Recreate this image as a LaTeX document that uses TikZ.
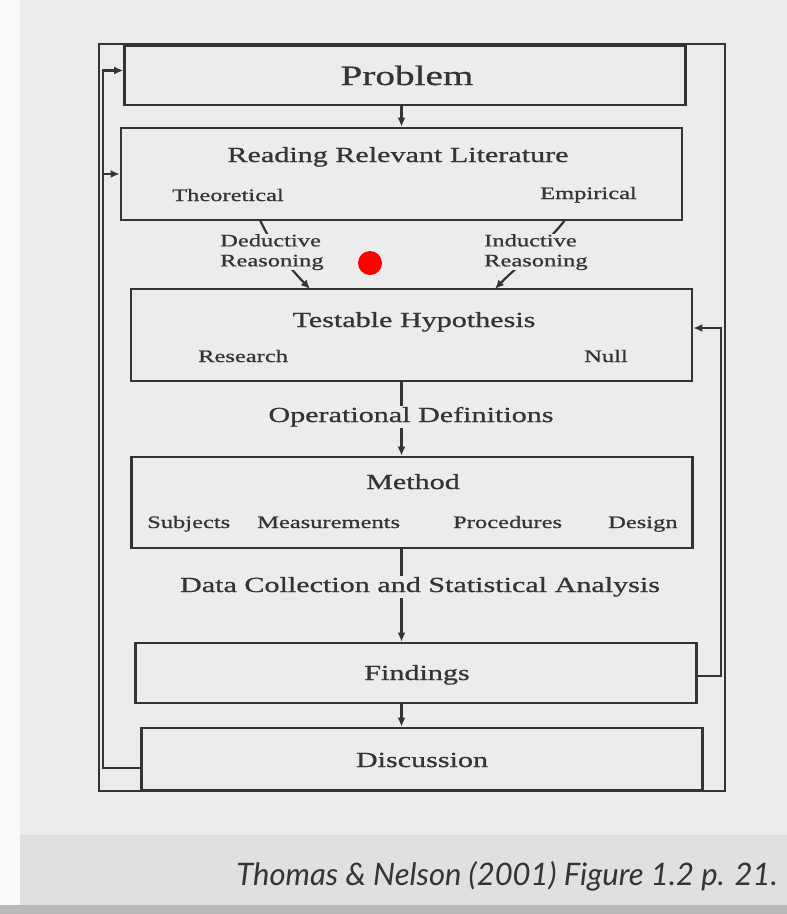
\documentclass[tikz,border=0pt]{standalone}
\usepackage{fontspec}
\setmainfont{Liberation Serif}[FakeStretch=1.4,FakeBold=0.9]
\newfontfamily\capfont{Lato}
\usetikzlibrary{arrows.meta}
\definecolor{paper}{RGB}{236,236,236}
\definecolor{band}{RGB}{224,224,224}
\definecolor{ink}{RGB}{52,52,52}

\begin{document}
\begin{tikzpicture}[x=1pt,y=-1pt,
  box/.style={draw=ink,line width=2.6pt,minimum width=561pt,inner sep=0pt},
  outline/.style={draw=ink,line width=2pt},
  arr/.style={draw=ink,line width=2.2pt,-{Latex[length=9pt,width=8pt]}},
  ttl/.style={font=\fontsize{21.5}{24}\selectfont,text=ink,inner sep=0pt},
  bigttl/.style={font=\fontsize{28}{30}\selectfont,text=ink,inner sep=0pt},
  lbl/.style={font=\fontsize{17.5}{20}\selectfont,text=ink,inner sep=0pt}]
\useasboundingbox (0,0) rectangle (787,914);
% slide background
\fill[paper] (0,0) rectangle (787,914);
\fill[white!70!paper] (0,0) rectangle (20,914);
\fill[band] (20,835) rectangle (787,905);
\fill[gray!55] (0,905) rectangle (787,914);
\draw[outline] (99,44) rectangle (725,791);
% boxes
\node[box,minimum height=59pt] (prob) at (405,75.5) {};
\node[box,minimum height=92pt] (lit) at (401.5,174) {};
\node[box,minimum height=92pt] (hyp) at (411.5,335) {};
\node[box,minimum height=91pt] (meth) at (412,502.5) {};
\node[box,minimum height=60pt] (find) at (416,673) {};
\node[box,minimum height=62pt] (disc) at (422,759) {};
% down the chain
\draw[arr] (prob.south -| lit.north) -- (lit.north);
\draw[arr] (hyp.south -| lit.south) -- (meth.north -| lit.south);
\draw[arr] (meth.south -| lit.south) -- (find.north -| lit.south);
\draw[arr] (find.south -| lit.south) -- (disc.north -| lit.south);
\coordinate (dedA) at (260,220);
\coordinate (dedB) at (310,289);
\draw[arr] (dedA) .. controls (272,246) and (288,266) .. (dedB);
\coordinate (indA) at (565,220);
\coordinate (indB) at (495,289);
\draw[arr] (indA) .. controls (546,245) and (515,268) .. (indB);
% feedback loops
\coordinate (fbL) at (103,768);
\draw[arr] (fbL -| disc.west) -- (fbL) |- ([yshift=5pt]prob.west);
\draw[arr] (fbL |- lit.west) -- (lit.west);
\coordinate (fbR) at (721,676);
\draw[arr] (fbR -| find.east) -- (fbR) |- ([yshift=7pt]hyp.east);
% texts
\node[bigttl,anchor=base] (probT) at (407,85) {Problem};
\node[ttl,anchor=base] (litT) at (398,162) {Reading Relevant Literature};
\node[lbl,anchor=base west] (theo) at (172,201) {Theoretical};
\node[lbl,anchor=base east] (emp) at (637,199) {Empirical};
\node[lbl,anchor=north west,align=left,fill=paper] (ded) at (220,234) {Deductive\\Reasoning};
\node[lbl,anchor=north west,align=left,fill=paper] (ind) at (484,234) {Inductive\\Reasoning};
\node[ttl,anchor=base] (hypT) at (414,327) {Testable Hypothesis};
\node[lbl,anchor=base west] (res) at (198,362) {Research};
\node[lbl,anchor=base west] (null) at (584,362) {Null};
\node[ttl,anchor=base,fill=paper,inner sep=1pt] (opdef) at (411,422) {Operational Definitions};
\node[ttl,anchor=base] (methT) at (413,489) {Method};
\foreach \x/\t in {147/Subjects,257/Measurements,453/Procedures,608/Design}
  \node[lbl,anchor=base west] at (\x,528) {\t};
\node[ttl,anchor=base,fill=paper,inner sep=1pt] (data) at (420,592) {Data Collection and Statistical Analysis};
\node[ttl,anchor=base] (findT) at (417,680) {Findings};
\node[ttl,anchor=base] (discT) at (422,767) {Discussion};
% pointer dot
\fill[red] (370,263) circle (12);
% source line
\node[anchor=base east,inner sep=0pt,text=ink,font=\capfont\itshape\fontsize{31}{34}\selectfont] (src) at (778,885) {Thomas \& Nelson (2001) Figure 1.2 p. 21.};
\end{tikzpicture}
\end{document}
